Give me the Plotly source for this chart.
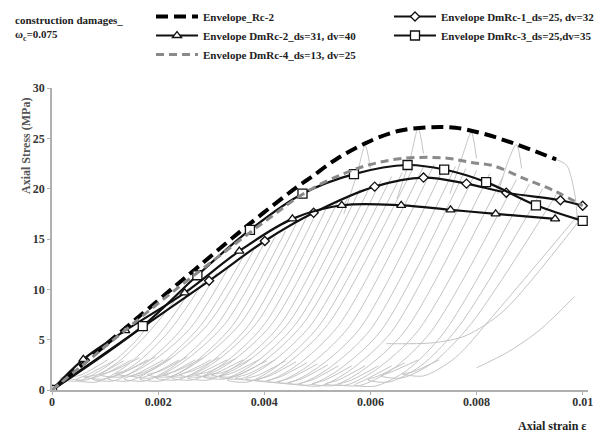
import numpy as np
import plotly.graph_objects as go

# ---------------- data (strain in per-mille, stress in MPa) ----------------
rc2_x = [0, 1.0, 2.0, 2.7, 3.7, 4.6, 4.9, 5.35, 5.9, 6.5, 7.1, 7.6, 8.1, 8.7, 9.5]
rc2_y = [0, 4.45, 8.9, 12.0, 16.4, 20.1, 21.2, 22.9, 24.5, 25.7, 26.1, 26.05, 25.5, 24.5, 22.9]

dm1_x = [0, 2.96, 4.01, 4.93, 6.08, 7.0, 7.81, 8.56, 9.58, 10.0]
dm1_y = [0, 10.85, 14.8, 17.6, 20.2, 21.1, 20.5, 19.6, 18.85, 18.3]

dm2_x = [0, 0.59, 1.38, 2.5, 3.53, 4.53, 5.46, 6.58, 7.51, 8.36, 9.48]
dm2_y = [0, 3.05, 5.9, 9.65, 13.8, 17.0, 18.35, 18.35, 17.9, 17.5, 17.0]

dm3_x = [0, 1.71, 2.74, 3.73, 4.72, 5.69, 6.70, 7.39, 8.18, 9.12, 10.0]
dm3_y = [0, 6.35, 11.4, 15.9, 19.5, 21.45, 22.35, 21.9, 20.65, 18.35, 16.8]

dm4_x = [0, 1.0, 2.0, 3.0, 4.0, 4.8, 5.5, 6.0, 6.6, 7.4, 7.9, 8.3, 8.9, 9.5, 10.0]
dm4_y = [0, 4.3, 8.6, 12.7, 16.7, 19.7, 21.5, 22.4, 23.0, 23.05, 22.6, 22.3, 21.0, 19.7, 18.3]

# cyclic test records (grey), each a list of (strain per-mille, stress MPa)
cycles = [
    [(0.9, 3.2), (0.4, 1.7), (0.15, 1.1), (0.5, 0.9), (1.1, 2.6), (1.6, 5.0), (2.0, 7.8)],
    [(1.05, 3.0), (0.55, 1.5), (0.3, 1.2), (0.65, 1.0), (1.25, 2.8), (1.8, 5.6), (2.3, 8.8)],
    [(1.2, 3.0), (0.7, 1.6), (0.45, 1.0), (0.85, 0.8), (1.4, 2.4), (2.0, 5.4), (2.6, 9.8)],
    [(1.35, 2.9), (0.85, 1.5), (0.6, 1.3), (1.0, 1.1), (1.55, 2.5), (2.2, 5.8), (2.85, 10.7)],
    [(1.5, 3.0), (1.0, 1.6), (0.75, 1.1), (1.15, 0.9), (1.7, 2.4), (2.4, 5.8), (3.1, 11.6)],
    [(1.65, 3.2), (1.15, 1.9), (0.9, 1.5), (1.3, 1.3), (1.85, 2.7), (2.6, 6.1), (3.35, 12.4)],
    [(1.8, 3.0), (1.3, 1.6), (1.05, 1.1), (1.45, 0.9), (2.0, 2.4), (2.8, 6.4), (3.6, 13.2)],
    [(1.95, 3.3), (1.45, 2.0), (1.2, 1.6), (1.6, 1.4), (2.15, 2.8), (2.95, 6.6), (3.8, 13.9)],
    [(2.1, 3.0), (1.6, 1.6), (1.35, 1.1), (1.75, 0.9), (2.3, 2.4), (3.1, 6.4), (4.0, 14.6)],
    [(2.25, 3.2), (1.75, 1.8), (1.5, 1.4), (1.9, 1.2), (2.45, 2.7), (3.25, 6.5), (4.2, 15.2)],
    [(2.4, 3.0), (1.9, 1.6), (1.65, 1.1), (2.05, 0.9), (2.6, 2.4), (3.4, 6.4), (4.4, 15.8)],
    [(2.55, 3.3), (2.05, 1.9), (1.8, 1.5), (2.2, 1.3), (2.75, 2.8), (3.55, 6.6), (4.6, 16.5)],
    [(2.7, 3.0), (2.2, 1.6), (1.95, 1.2), (2.35, 1.0), (2.9, 2.4), (3.7, 6.4), (4.8, 17.2)],
    [(2.85, 3.2), (2.35, 1.9), (2.1, 1.5), (2.5, 1.3), (3.05, 2.7), (3.85, 6.6), (5.0, 17.8)],
    [(3.0, 3.0), (2.5, 1.7), (2.25, 1.2), (2.65, 1.0), (3.2, 2.5), (4.0, 6.5), (5.2, 18.4)],
    [(3.15, 3.2), (2.65, 1.9), (2.4, 1.5), (2.8, 1.3), (3.35, 2.7), (4.15, 6.6), (5.4, 18.9)],
    [(3.3, 3.0), (2.8, 1.7), (2.55, 1.2), (2.95, 1.0), (3.5, 2.5), (4.3, 6.5), (5.6, 19.4)],
    [(3.45, 3.1), (2.95, 1.8), (2.7, 1.5), (3.1, 1.3), (3.65, 2.7), (4.45, 6.6), (5.8, 19.9)],
    [(3.6, 3.0), (3.1, 1.7), (2.85, 1.3), (3.25, 1.1), (3.8, 2.6), (4.6, 6.6), (6.0, 20.3)],
    [(3.75, 3.1), (3.25, 1.8), (3.0, 1.5), (3.4, 1.3), (3.95, 2.7), (4.75, 6.7), (6.2, 20.8)],
    [(3.9, 3.0), (3.4, 1.7), (3.15, 1.3), (3.55, 1.1), (4.1, 2.6), (4.9, 6.6), (6.4, 21.2)],
    [(4.05, 2.9), (3.55, 1.6), (3.3, 1.0), (3.7, 0.8), (4.25, 2.4), (5.05, 6.5), (6.6, 21.6)],
    [(4.2, 3.0), (3.7, 1.6), (3.45, 1.2), (3.85, 1.0), (4.4, 2.5), (5.2, 6.5), (6.8, 22.0)],
    [(4.4, 2.9), (3.9, 1.5), (3.65, 1.1), (4.05, 0.9), (4.6, 2.4), (5.4, 6.4), (7.0, 22.2)],
    [(4.6, 2.8), (4.1, 1.4), (3.85, 1.0), (4.25, 0.8), (4.8, 2.3), (5.6, 6.3), (7.2, 22.4)],
    [(4.8, 2.7), (4.3, 1.3), (4.05, 0.9), (4.45, 0.7), (5.0, 2.2), (5.8, 6.1), (7.4, 22.3)],
    [(5.0, 2.6), (4.5, 1.2), (4.25, 0.8), (4.65, 0.6), (5.2, 2.1), (6.0, 6.0), (7.6, 22.2)],
    [(5.2, 2.5), (4.7, 1.1), (4.45, 0.7), (4.85, 0.5), (5.4, 2.0), (6.2, 5.9), (7.8, 22.0)],
    [(5.4, 2.4), (4.9, 1.0), (4.65, 0.6), (5.05, 0.4), (5.6, 1.9), (6.4, 5.8), (8.0, 21.8)],
    [(5.65, 2.4), (5.15, 1.0), (4.9, 0.6), (5.3, 0.45), (5.85, 1.95), (6.65, 5.85), (8.25, 21.5)],
    [(5.9, 2.4), (5.4, 1.0), (5.15, 0.6), (5.55, 0.5), (6.1, 2.0), (6.9, 5.9), (8.5, 21.2)],
    [(6.15, 2.4), (5.65, 1.0), (5.4, 0.55), (5.8, 0.45), (6.4, 2.0), (7.15, 5.85), (8.75, 20.9)],
    [(6.4, 2.4), (5.9, 1.0), (5.7, 0.5), (6.1, 0.4), (6.7, 2.0), (7.4, 5.8), (9.0, 20.5)],
    [(6.65, 2.7), (6.15, 1.4), (5.95, 1.0), (6.35, 0.8), (6.95, 2.4), (7.65, 6.2), (9.25, 20.0)],
    [(6.9, 3.0), (6.4, 1.8), (6.2, 1.4), (6.6, 1.2), (7.2, 2.8), (7.9, 6.6), (9.5, 19.4)],
    [(7.3, 3.0), (6.8, 1.8), (6.6, 1.6), (7.0, 1.4), (7.6, 3.2), (8.3, 7.3), (9.9, 17.3)],
    [(6.3, 4.6), (7.2, 4.7), (7.8, 5.4), (8.5, 7.8), (9.9, 16.6)],
    [(8.0, 2.2), (8.6, 3.8), (9.2, 6.0), (9.85, 9.3)],
    [(5.5, 17.5), (5.75, 21.5), (5.9, 24.3), (6.0, 22.0)],
    [(6.5, 19.0), (6.75, 23.0), (6.9, 26.0), (7.0, 23.5)],
    [(7.5, 19.5), (7.75, 23.5), (7.9, 25.6), (8.0, 23.0)],
    [(8.4, 19.5), (8.6, 22.8), (8.75, 24.4), (8.85, 22.0)],
    [(9.9, 16.8), (9.85, 19.5), (9.7, 22.3), (9.5, 22.9)],
]

x_ticks = [0, 0.002, 0.004, 0.006, 0.008, 0.01]
x_ticklabels = ["0", "0.002", "0.004", "0.006", "0.008", "0.01"]
y_ticks = [0, 5, 10, 15, 20, 25, 30]

PM = 1e-3  # per-mille -> strain

FONT = "Liberation Serif"
fig = go.Figure()

for c in cycles:
    fig.add_trace(go.Scatter(
        x=[p[0] * PM for p in c], y=[p[1] for p in c], mode="lines",
        line=dict(color="#c4c4c4", width=1, shape="spline", smoothing=0.8),
        showlegend=False, hoverinfo="skip"))


def arr(a):
    return np.array(a) * PM


fig.add_trace(go.Scatter(
    x=arr(rc2_x), y=rc2_y, mode="lines", name="<b>Envelope_Rc-2</b>",
    legend="legend", legendgroup="a",
    line=dict(color="black", width=4, dash="12px,6px", shape="spline")))
fig.add_trace(go.Scatter(
    x=arr(dm1_x), y=dm1_y, mode="lines+markers", name="<b>Envelope DmRc-1_ds=25, dv=32</b>",
    legend="legend2", legendgroup="b",
    line=dict(color="#111", width=2.2, shape="spline"),
    marker=dict(symbol="diamond", size=7, color="white", line=dict(color="#111", width=1.3))))
fig.add_trace(go.Scatter(
    x=arr(dm2_x), y=dm2_y, mode="lines+markers", name="<b>Envelope DmRc-2_ds=31, dv=40</b>",
    legend="legend", legendgroup="c",
    line=dict(color="#111", width=2.2, shape="spline"),
    marker=dict(symbol="triangle-up", size=8, color="white", line=dict(color="#111", width=1.3))))
fig.add_trace(go.Scatter(
    x=arr(dm3_x), y=dm3_y, mode="lines+markers", name="<b>Envelope DmRc-3_ds=25,dv=35</b>",
    legend="legend2", legendgroup="d",
    line=dict(color="#111", width=2.2, shape="spline"),
    marker=dict(symbol="square", size=9, color="white", line=dict(color="#111", width=1.3))))
fig.add_trace(go.Scatter(
    x=arr(dm4_x), y=dm4_y, mode="lines", name="<b>Envelope DmRc-4_ds=13, dv=25</b>",
    legend="legend", legendgroup="e",
    line=dict(color="#8a8a8a", width=3, dash="8px,5px", shape="spline")))

L, R, T, B = 44, 31, 80, 50
W, H = 611, 432
pw = W - L - R
ph = H - T - B

leg_common = dict(
    orientation="v", xanchor="left", y=(H - B + 6) / ph, yanchor="top",
    itemwidth=42, tracegroupgap=6,
    font=dict(family=FONT, size=11, color="#222"),
    bgcolor="rgba(0,0,0,0)", traceorder="normal",
)

fig.update_layout(
    width=W, height=H,
    margin=dict(l=L, r=R, t=T, b=B, autoexpand=False),
    paper_bgcolor="white", plot_bgcolor="white",
    font=dict(family=FONT, size=12, color="#222"),
    legend=dict(x=(143 - L) / pw, **leg_common),
    legend2=dict(x=(381 - L) / pw, **leg_common),
    xaxis=dict(range=[0, 0.0101], tickvals=x_ticks, ticktext=x_ticklabels,
               showgrid=False, zeroline=False, showline=True, linecolor="#b0b0b0",
               linewidth=1.5, ticks="outside", ticklen=3, tickcolor="#b0b0b0",
               ticklabelstandoff=-3,
               tickfont=dict(family=FONT, size=12, color="#333", weight="bold"),
               fixedrange=True),
    yaxis=dict(range=[0, 30], tickvals=y_ticks,
               showgrid=False, zeroline=False, showline=True, linecolor="#b0b0b0",
               linewidth=1.5, ticks="outside", ticklen=3, tickcolor="#b0b0b0",
               tickfont=dict(family=FONT, size=12, color="#333", weight="bold"),
               fixedrange=True),
    annotations=[
        dict(text="<b>construction damages_</b><br><b>ω<sub>c</sub>=0.075</b>",
             xref="paper", yref="paper", x=(5 - L) / pw, y=(H - B - 4) / ph,
             xanchor="left", yanchor="top", align="left", showarrow=False,
             font=dict(family=FONT, size=11, color="#222")),
        dict(text="<b>Axial Stress (MPa)</b>", xref="paper", yref="paper",
             x=(18 - L) / pw, y=(H - B - 138) / ph, xanchor="center", yanchor="middle",
             textangle=-90, showarrow=False,
             font=dict(family=FONT, size=12, color="#555")),
        dict(text="<b>Axial strain ε</b>", xref="paper", yref="paper",
             x=1.0, y=-36 / ph, xanchor="right", yanchor="middle", showarrow=False,
             font=dict(family=FONT, size=12, color="#222")),
    ],
)

fig.write_html("out.html")
